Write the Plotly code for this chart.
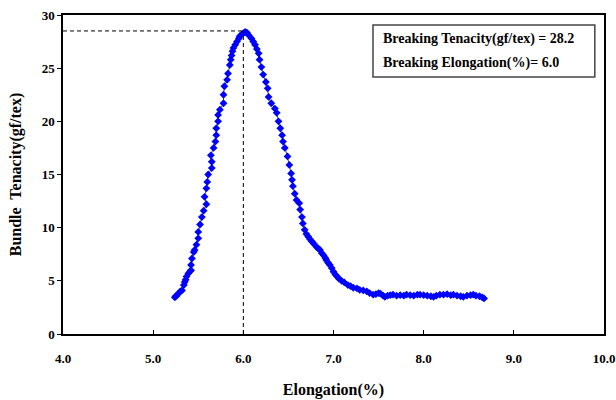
import plotly.graph_objects as go

# Elongation (%) and bundle tenacity (gf/tex)
elongation = [5.24, 5.25, 5.26, 5.28, 5.30, 5.32, 5.34, 5.35, 5.36, 5.37, 5.39, 5.41, 5.42, 5.42, 5.43,
              5.45, 5.46, 5.48, 5.50, 5.50, 5.52, 5.54, 5.56, 5.59, 5.57, 5.59, 5.60, 5.61, 5.65, 5.65,
              5.64, 5.67, 5.69, 5.70, 5.70, 5.72, 5.72, 5.74, 5.78, 5.78, 5.79, 5.82, 5.83, 5.85, 5.86,
              5.87, 5.88, 5.89, 5.91, 5.93, 5.95, 5.96, 5.98, 6.00, 6.02, 6.04,
              6.06, 6.09, 6.11, 6.13, 6.15, 6.17, 6.18, 6.20, 6.22, 6.25, 6.27, 6.28, 6.31, 6.35, 6.37,
              6.39, 6.41, 6.43, 6.44, 6.46, 6.49, 6.51, 6.53, 6.54, 6.55, 6.57, 6.59, 6.62, 6.63, 6.65,
              6.66, 6.68, 6.70, 6.72, 6.74, 6.76, 6.78, 6.81, 6.83, 6.85, 6.87, 6.89, 6.91, 6.92, 6.94,
              6.96, 6.98, 7.00, 7.02, 7.04, 7.06, 7.09, 7.12, 7.16, 7.19, 7.22, 7.26, 7.29, 7.33, 7.37,
              7.40, 7.44, 7.47, 7.50, 7.52, 7.55, 7.57, 7.60, 7.63, 7.66, 7.70, 7.74, 7.78, 7.81, 7.85,
              7.89, 7.93, 7.96, 8.00, 8.04, 8.08, 8.11, 8.14, 8.18, 8.22, 8.26, 8.30, 8.33, 8.37, 8.41,
              8.44, 8.48, 8.52, 8.55, 8.58, 8.62, 8.65, 8.67]
tenacity = [3.45, 3.55, 3.6, 3.8, 4.0, 4.1, 4.6, 4.9, 5.1, 5.4, 5.7, 5.9, 6.0, 6.5, 7.1,
            7.7, 7.9, 8.4, 9.0, 9.6, 10.3, 11.0, 11.6, 12.2, 12.9, 13.7, 14.3, 15.0, 15.6, 16.2,
            16.8, 17.5, 18.1, 18.7, 19.35, 20.0, 20.6, 21.1, 21.7, 22.5, 23.3, 23.9, 24.5, 25.3, 25.8,
            26.2, 26.6, 26.9, 27.2, 27.5, 27.8, 28.0, 28.15, 28.3, 28.4, 28.35,
            28.1, 27.8, 27.5, 27.2, 26.8, 26.4, 25.8, 25.1, 24.4, 23.7, 23.1, 22.3, 21.7, 21.2, 20.8,
            20.0, 19.35, 18.7, 18.1, 17.5, 16.7, 15.9, 15.1, 14.5, 13.9, 13.2, 12.6, 12.3, 11.7, 11.0,
            10.4, 9.8, 9.4, 9.15, 8.9, 8.7, 8.5, 8.2, 8.05, 7.9, 7.6, 7.4, 7.15, 6.96, 6.7,
            6.5, 6.2, 5.86, 5.6, 5.4, 5.2, 5.0, 4.85, 4.6, 4.5, 4.35, 4.3, 4.15, 4.1, 4.0,
            3.85, 3.7, 3.75, 3.85, 3.8, 3.6, 3.5, 3.6, 3.65, 3.7, 3.6, 3.65, 3.6, 3.7, 3.65,
            3.6, 3.7, 3.7, 3.65, 3.6, 3.55, 3.5, 3.6, 3.7, 3.7, 3.75, 3.65, 3.7, 3.6, 3.55,
            3.5, 3.6, 3.65, 3.7, 3.6, 3.55, 3.45, 3.35]

breaking_tenacity = 28.2
breaking_elongation = 6.0
x_ticks = [4.0, 5.0, 6.0, 7.0, 8.0, 9.0, 10.0]
y_ticks = [0, 5, 10, 15, 20, 25, 30]

SERIF = "Liberation Serif, DejaVu Serif, serif"
peak_y = max(tenacity)

fig = go.Figure()
fig.add_trace(go.Scatter(
    x=elongation, y=tenacity, mode="lines+markers",
    line=dict(color="black", width=0.7),
    marker=dict(symbol="diamond", size=6, color="#0000FF", line=dict(width=0)),
    showlegend=False, hoverinfo="skip",
))

# dashed guide lines to the breaking point
fig.add_shape(type="line", xref="x", yref="y", x0=x_ticks[0], x1=breaking_elongation + 0.02,
              y0=peak_y + 0.1, y1=peak_y + 0.1, line=dict(color="black", width=1, dash="4px,3px"))
fig.add_shape(type="line", xref="x", yref="y", x0=breaking_elongation, x1=breaking_elongation,
              y0=0, y1=peak_y + 0.1, line=dict(color="black", width=1, dash="4px,3px"))

# info box
fig.add_shape(type="rect", xref="paper", yref="paper", x0=0.573, x1=0.983, y0=0.806, y1=0.969,
              line=dict(color="#444", width=1.5), fillcolor="white")
fig.add_annotation(xref="paper", yref="paper", x=0.588, y=0.926, xanchor="left", yanchor="middle",
                   showarrow=False, text=f"<b>Breaking Tenacity(gf/tex) = {breaking_tenacity:.1f}</b>",
                   font=dict(family=SERIF, size=14, color="black"))
fig.add_annotation(xref="paper", yref="paper", x=0.588, y=0.851, xanchor="left", yanchor="middle",
                   showarrow=False, text=f"<b>Breaking Elongation(%)= {breaking_elongation:.1f}</b>",
                   font=dict(family=SERIF, size=14, color="black"))

fig.update_layout(
    width=616, height=400,
    margin=dict(l=63, r=12, t=15, b=66),
    paper_bgcolor="white", plot_bgcolor="white",
    font=dict(family=SERIF, color="black"),
    xaxis=dict(
        range=[4, 10], tickvals=x_ticks, ticktext=[f"<b>{v:.1f}</b>" for v in x_ticks],
        ticks="inside", ticklen=4, tickwidth=1, tickcolor="black",
        showline=True, linecolor="black", linewidth=1.5, mirror=True,
        showgrid=False, zeroline=False, ticklabelstandoff=12, automargin=False,
        tickfont=dict(family=SERIF, size=13, color="black"),
        title=dict(text="<b>Elongation(%)</b>", font=dict(family=SERIF, size=16, color="black"), standoff=18),
    ),
    yaxis=dict(
        range=[0, 30], tickvals=y_ticks, ticktext=[f"<b>{v}</b>" for v in y_ticks],
        ticks="outside", ticklen=4, tickwidth=1, tickcolor="black",
        showline=True, linecolor="black", linewidth=1.5, mirror=True,
        showgrid=False, zeroline=False, automargin=False,
        tickfont=dict(family=SERIF, size=13, color="black"),
        title=dict(text="<b>Bundle  Tenacity(gf/tex)</b>", font=dict(family=SERIF, size=16, color="black"), standoff=16),
    ),
)

fig.write_html("out.html", config={"displayModeBar": False},
               post_script="document.body.style.margin='0';document.body.style.overflow='hidden';")
